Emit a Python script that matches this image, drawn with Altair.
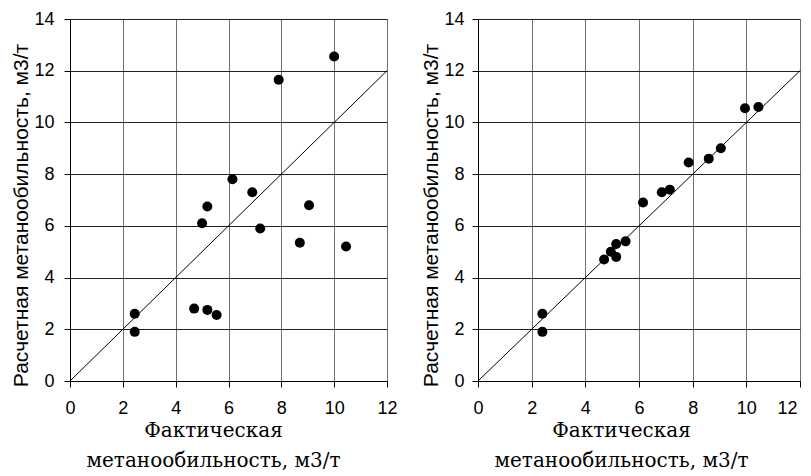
import altair as alt
import pandas as pd

# ---- data ----
x_ticks = [0, 2, 4, 6, 8, 10, 12]
y_ticks = [0, 2, 4, 6, 8, 10, 12, 14]

fact_left = [10.0, 7.9, 6.15, 6.9, 5.2, 9.05, 5.0, 7.2, 8.7, 10.45, 2.45, 2.45, 4.7, 5.2, 5.55]
calc_left = [12.55, 11.65, 7.8, 7.3, 6.75, 6.8, 6.1, 5.9, 5.35, 5.2, 2.6, 1.9, 2.8, 2.75, 2.55]

fact_right = [9.95, 10.45, 9.05, 8.6, 7.85, 6.85, 7.15, 6.15, 5.5, 5.15, 4.95, 5.15, 4.7, 2.4, 2.4]
calc_right = [10.55, 10.6, 9.0, 8.6, 8.45, 7.3, 7.4, 6.9, 5.4, 5.3, 5.0, 4.8, 4.7, 2.6, 1.9]

diag_x = [0, 12]
diag_y = [0, 12]

x_title = ["Фактическая", "метанообильность, м3/т"]
y_title = "Расчетная метанообильность, м3/т"


def panel(fact, calc, width, height, ylabpad, flush_last):
    pts = pd.DataFrame({"fact": fact, "calc": calc})
    diag = pd.DataFrame({"fact": diag_x, "calc": diag_y})

    if flush_last:
        lab_align = {"condition": {"test": "datum.value == 12", "value": "right"}, "value": "center"}
        lab_offset = {"condition": {"test": "datum.value == 12", "value": -3}, "value": 0}
    else:
        lab_align = "center"
        lab_offset = 0

    def xenc():
        return alt.X(
            "fact:Q",
            scale=alt.Scale(domain=[0, 12], nice=False, zero=False),
            axis=alt.Axis(
                values=x_ticks,
                title=x_title,
                titleFont="DejaVu Serif",
                titleFontSize=20,
                titleFontWeight="normal",
                titleLineHeight=30,
                titleColor="black",
                titlePadding=3,
                titleX=143,
                labelFont="Liberation Sans",
                labelFontSize=18,
                labelColor="black",
                labelPadding=12,
                labelAlign=lab_align,
                labelOffset=lab_offset,
                tickSize=6,
                tickColor="black",
                domainColor="black",
                gridColor="#707070",
                gridOpacity=1,
                labelFlush=False,
            ),
        )

    def yenc():
        return alt.Y(
            "calc:Q",
            scale=alt.Scale(domain=[0, 14], nice=False, zero=False),
            axis=alt.Axis(
                values=y_ticks,
                title=y_title,
                titleFont="Liberation Sans",
                titleFontSize=21,
                titleFontWeight="normal",
                titleColor="black",
                titlePadding=2,
                titleY=196,
                labelFont="Liberation Sans",
                labelFontSize=18,
                labelColor="black",
                labelPadding=ylabpad,
                tickSize=6,
                tickColor="black",
                domainColor="black",
                gridColor="#202020",
                gridOpacity=1,
                labelFlush=False,
            ),
        )

    line = alt.Chart(diag).mark_line(color="black", strokeWidth=1).encode(x=xenc(), y=yenc())
    dots = alt.Chart(pts).mark_circle(color="black", opacity=1, size=100).encode(x=xenc(), y=yenc())
    return alt.layer(line, dots).properties(width=width, height=height)


left = panel(fact_left, calc_left, 317, 362, 10, False)
right = panel(fact_right, calc_right, 322, 362, 8, True)

chart = (
    alt.HConcatChart(
        hconcat=[left, right],
        spacing=91,
        bounds="flush",
        padding={"left": 2, "top": 1, "right": 0, "bottom": 0},
    )
    .configure_view(stroke="transparent")
    .configure(background="white")
)

chart.save("out.html", embed_options={"renderer": "svg", "actions": False})
